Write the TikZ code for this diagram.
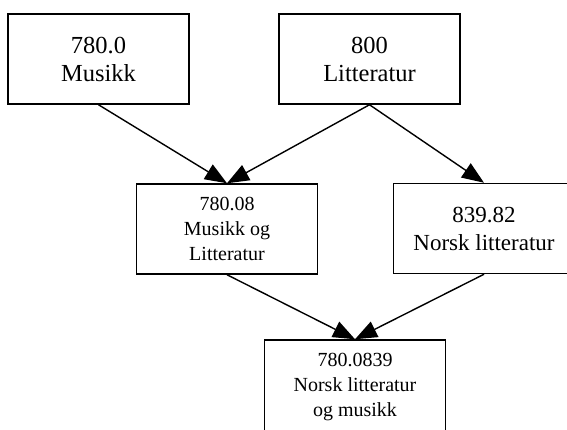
\documentclass[tikz,border=0pt]{standalone}
\usepackage{fontspec}
\setmainfont{Liberation Serif}
\usetikzlibrary{arrows.meta}

\begin{document}
\begin{tikzpicture}[
  x=1pt,
  y=-1pt,
  box/.style={draw, line width=1.5pt, minimum width=181pt, minimum height=90pt, align=center, inner sep=0pt},
  big/.style={font=\fontsize{24.5}{28}\selectfont},
  mid/.style={font=\fontsize{23}{28}\selectfont},
  small/.style={font=\fontsize{20}{25}\selectfont},
  link/.style={line width=1.4pt, -{Triangle[length=22pt,width=17pt]}}
]
  \useasboundingbox (0,0) rectangle (567,430);

  \node[box,big] (musikk) at (98.5,59) {780.0\\Musikk};
  \node[box,big] (litt) at (369.5,59) {800\\Litteratur};
  \node[box,small] (muslitt) at (227,229) {780.08\\Musikk og\\Litteratur};
  \node[box,mid] (norsk) at (484,228.5) {839.82\\Norsk litteratur};
  \node[box,small,minimum height=94pt] (norskmus) at (355,387) {780.0839\\Norsk litteratur\\og musikk};

  \draw[link] (musikk.south) -- (muslitt.north);
  \draw[link] (litt.south) -- (muslitt.north);
  \draw[link] (litt.south) -- (norsk.north);
  \draw[link] (muslitt.south) -- (norskmus.north);
  \draw[link] (norsk.south) -- (norskmus.north);
\end{tikzpicture}
\end{document}
